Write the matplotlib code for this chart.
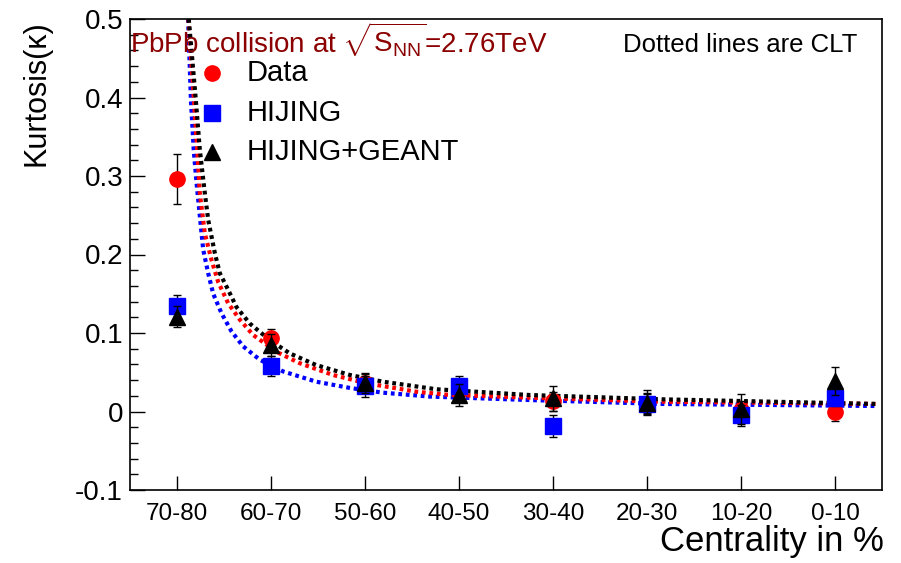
import numpy as np
import matplotlib
matplotlib.use("Agg")
import matplotlib.pyplot as plt

plt.rcParams['font.family'] = ['Liberation Sans', 'DejaVu Sans']
plt.rcParams['mathtext.fontset'] = 'custom'
plt.rcParams['mathtext.rm'] = 'Liberation Sans'
plt.rcParams['mathtext.it'] = 'Liberation Sans:italic'

# centrality classes (peripheral -> central)
centrality = ['70-80', '60-70', '50-60', '40-50', '30-40', '20-30', '10-20', '0-10']

# kurtosis values
data_y = [0.296, 0.093, 0.036, 0.026, 0.013, 0.010, 0.002, 0.000]
data_err = [0.032, 0.012, 0.012, 0.012, 0.012, 0.012, 0.012, 0.012]

hijing_y = [0.134, 0.058, 0.032, 0.032, -0.018, 0.010, -0.005, 0.017]
hijing_err = [0.014, 0.013, 0.013, 0.013, 0.014, 0.013, 0.013, 0.010]

geant_y = [0.121, 0.085, 0.036, 0.021, 0.017, 0.011, 0.003, 0.039]
geant_err = [0.013, 0.014, 0.013, 0.014, 0.016, 0.016, 0.019, 0.018]

# CLT expectation curves (x in category units)
clt_blue_x = [0.118, 0.148, 0.178, 0.208, 0.261, 0.279, 0.332, 0.385, 0.474, 0.58,
              0.704, 0.88, 1.13, 1.48, 1.84, 2.19, 2.69, 3.75, 5.17, 7.45]
clt_blue_y = [0.50, 0.397, 0.333, 0.291, 0.227, 0.206, 0.176, 0.150, 0.125, 0.102,
              0.083, 0.066, 0.051, 0.038, 0.030, 0.024, 0.019, 0.0146, 0.0096, 0.0070]

clt_red_x = [0.122, 0.18, 0.215, 0.243, 0.296, 0.367, 0.438, 0.544, 0.668, 0.81,
             1.058, 1.306, 1.66, 2.015, 2.546, 2.865, 3.75, 5.17, 7.45]
clt_red_y = [0.50, 0.397, 0.333, 0.278, 0.227, 0.193, 0.165, 0.138, 0.117, 0.0975,
             0.076, 0.0615, 0.0465, 0.036, 0.0252, 0.0215, 0.0176, 0.0125, 0.0096]

clt_black_x = [0.125, 0.20, 0.243, 0.296, 0.332, 0.403, 0.456, 0.544, 0.633, 0.775,
               0.987, 1.2, 1.48, 1.84, 2.19, 2.76, 3.75, 5.17, 7.45]
clt_black_y = [0.50, 0.397, 0.333, 0.278, 0.244, 0.2015, 0.176, 0.155, 0.133, 0.112,
               0.091, 0.074, 0.0592, 0.0465, 0.038, 0.0283, 0.021, 0.0155, 0.0096]

fig = plt.figure(figsize=(9.01, 5.63), dpi=100)
ax = fig.add_axes([130 / 901, 73 / 563, 752 / 901, 471 / 563])

x = np.arange(len(centrality))

# dotted CLT lines
for cx, cy, col in [(clt_blue_x, clt_blue_y, 'blue'),
                    (clt_red_x, clt_red_y, 'red'),
                    (clt_black_x, clt_black_y, 'black')]:
    ax.plot(cx, cy, color=col, lw=3.0, linestyle=(0, (0.9, 0.9)),
            dash_capstyle='butt', zorder=2)

ekw = dict(ecolor='black', elinewidth=1.0, capsize=3, capthick=1.0, ls='none')
ax.errorbar(x, data_y, yerr=data_err, fmt='o', color='red', ms=11, zorder=3, **ekw)
ax.errorbar(x, hijing_y, yerr=hijing_err, fmt='s', color='blue', ms=11, zorder=4, **ekw)
ax.errorbar(x, geant_y, yerr=geant_err, fmt='^', color='black', ms=11, zorder=5, **ekw)

ax.set_xlim(-0.5, 7.5)
ax.set_ylim(-0.1, 0.5)
ax.set_xticks(x)
ax.set_xticklabels(centrality)
ax.set_yticks([-0.1, 0, 0.1, 0.2, 0.3, 0.4, 0.5])
ax.set_yticklabels(['-0.1', '0', '0.1', '0.2', '0.3', '0.4', '0.5'])
ax.set_yticks(np.arange(-0.1, 0.5001, 0.02), minor=True)
ax.tick_params(axis='y', which='major', direction='in', length=11, width=1.0,
               labelsize=20, pad=5)
ax.tick_params(axis='y', which='minor', direction='in', length=5.5, width=1.0)
ax.tick_params(axis='x', which='major', direction='in', length=10, width=1.0,
               labelsize=17.5, pad=9)
for sp in ax.spines.values():
    sp.set_linewidth(1.2)

# legend drawn by hand, ROOT style
leg_x = 0.1086
leg_rows = [(0.886, 'o', 'red', 'Data'),
            (0.800, 's', 'blue', 'HIJING'),
            (0.718, '^', 'black', 'HIJING+GEANT')]
for ly, mk, col, lab in leg_rows:
    ax.plot([leg_x], [ly], marker=mk, color=col, ms=11, transform=ax.transAxes,
            clip_on=False, zorder=6)
    ax.text(0.155, ly, lab, transform=ax.transAxes, fontsize=21,
            ha='left', va='center')

ax.text(0.0, 0.928, r'PbPb collision at $\sqrt{\mathrm{S}_{\mathrm{NN}}}$=2.76TeV',
        transform=ax.transAxes, fontsize=20, color='#8b0000', ha='left',
        va='baseline')
ax.text(0.967, 0.945, 'Dotted lines are CLT', transform=ax.transAxes,
        fontsize=18.5, ha='right', va='center')

fig.text(37 / 901, 1 - 93 / 563, 'Kurtosis(κ)', rotation=90, fontsize=22,
         ha='center', va='center')
fig.text(884 / 901, 1 - 542 / 563, 'Centrality in %', fontsize=25,
         ha='right', va='center')

fig.savefig('out.png', dpi=100)
